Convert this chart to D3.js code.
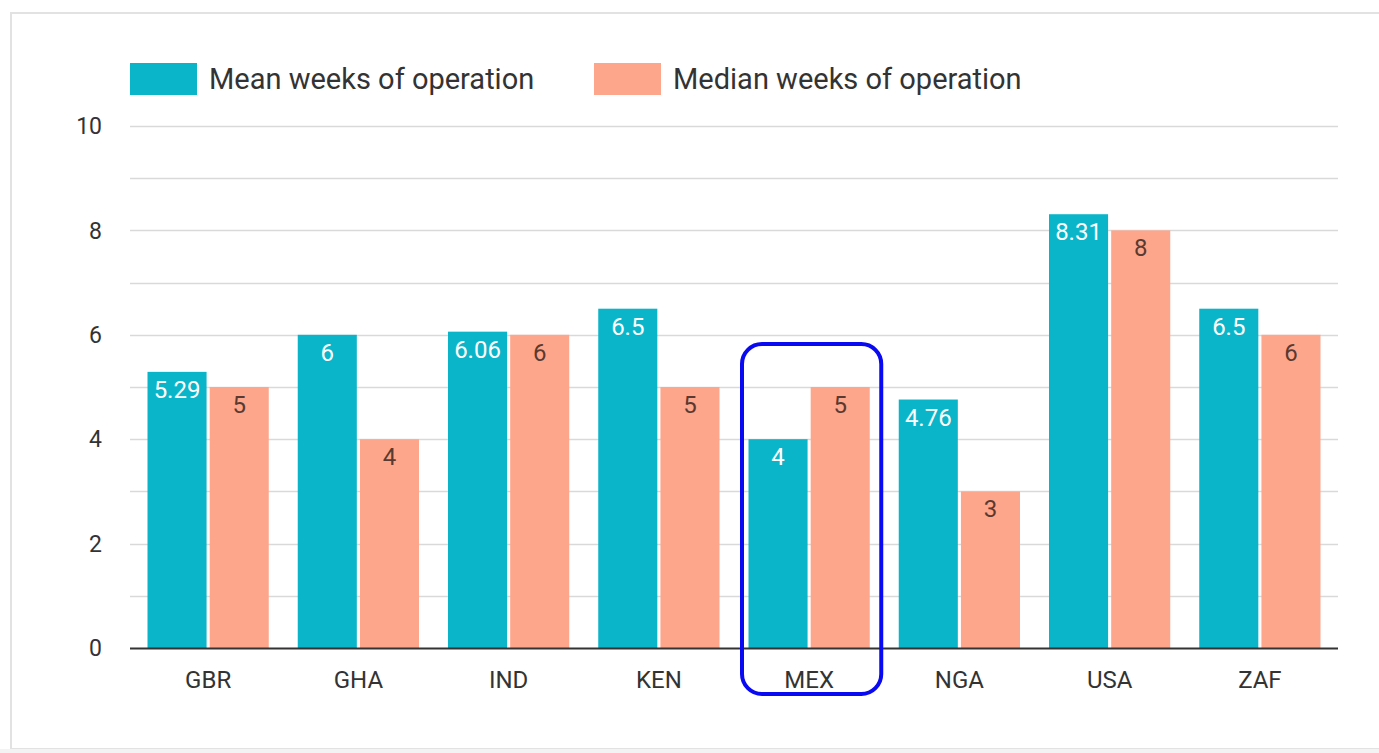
<!DOCTYPE html>
<html><head><meta charset="utf-8">
<script src="https://cdn.jsdelivr.net/npm/d3@7"></script>
<style>
html,body{margin:0;padding:0;background:#fff;overflow:hidden}
svg{display:block}
text{font-family:Roboto,"Noto Sans",sans-serif}
</style></head>
<body><svg id="chart" width="1379" height="753"></svg>
<script>
const categories = ["GBR","GHA","IND","KEN","MEX","NGA","USA","ZAF"];
const meanWeeks = [5.29, 6, 6.06, 6.5, 4, 4.76, 8.31, 6.5];
const medianWeeks = [5, 4, 6, 5, 5, 3, 8, 6];
const seriesNames = ["Mean weeks of operation", "Median weeks of operation"];
const yTicks = [0, 2, 4, 6, 8, 10];
const highlighted = "MEX";

const colors = ["#0bb5c9", "#fda68b"];
const labelColors = ["#ffffff", "#5a3a30"];

const svg = d3.select("#chart");
// card
svg.append("rect").attr("x", 11).attr("y", 13).attr("width", 1400).attr("height", 736)
  .attr("fill", "#fff").attr("stroke", "#e2e2e2").attr("stroke-width", 2);
svg.append("rect").attr("x", 0).attr("y", 749).attr("width", 1379).attr("height", 4).attr("fill", "#f3f3f3");

const x = d3.scaleBand().domain(categories).range([133, 1335]).paddingInner(0).paddingOuter(0);
const y = d3.scaleLinear().domain([0, 10]).range([648, 126]);
const inner = d3.scaleBand().domain([0, 1]).range([14.5, x.bandwidth() - 14.5]).paddingInner(0.05);

const lineX0 = 130, lineX1 = 1338;
// gridlines every 1
const grid = svg.append("g");
grid.selectAll("line").data(d3.range(1, 11)).join("line")
  .attr("x1", lineX0).attr("x2", lineX1)
  .attr("y1", d => Math.round(y(d)) + 0.5).attr("y2", d => Math.round(y(d)) + 0.5)
  .attr("stroke", "#d9d9d9").attr("stroke-width", 1.3);

// y tick labels
svg.append("g").selectAll("text").data(yTicks).join("text")
  .attr("x", 102).attr("y", d => y(d)).attr("dy", "0.36em")
  .attr("text-anchor", "end").attr("font-size", 23).attr("fill", "#333")
  .text(d => d);

const series = [meanWeeks, medianWeeks];
series.forEach((vals, s) => {
  const g = svg.append("g");
  g.selectAll("rect").data(categories).join("rect")
    .attr("x", (c) => x(c) + inner(s))
    .attr("width", inner.bandwidth())
    .attr("y", (c, i) => y(vals[i]))
    .attr("height", (c, i) => y(0) - y(vals[i]))
    .attr("fill", colors[s]);
  g.selectAll("text").data(categories).join("text")
    .attr("x", (c) => x(c) + inner(s) + inner.bandwidth() / 2)
    .attr("y", (c, i) => y(vals[i]) + 26)
    .attr("text-anchor", "middle").attr("font-size", 24)
    .attr("fill", labelColors[s])
    .text((c, i) => vals[i]);
});

// baseline
svg.append("line").attr("x1", lineX0).attr("x2", lineX1)
  .attr("y1", y(0) + 0.5).attr("y2", y(0) + 0.5)
  .attr("stroke", "#333").attr("stroke-width", 2);

// x axis labels
const xAxis = d3.axisBottom(x).tickSize(0).tickPadding(0);
const xg = svg.append("g").attr("transform", `translate(0,${y(0)})`).call(xAxis);
xg.select(".domain").remove();
xg.selectAll("text").attr("y", 31).attr("dy", "0.36em")
  .attr("font-size", 24).attr("fill", "#333").attr("font-family", "Roboto");

// legend
const legendX = [130, 594];
seriesNames.forEach((n, s) => {
  svg.append("rect").attr("x", legendX[s]).attr("y", 63).attr("width", 67).attr("height", 32).attr("fill", colors[s]);
  svg.append("text").attr("x", legendX[s] + 79).attr("y", 79).attr("dy", "0.36em")
    .attr("font-size", 29).attr("fill", "#333").text(n);
});

// highlight box
const hb = x(highlighted);
svg.append("rect")
  .attr("x", hb + 8).attr("y", 344)
  .attr("width", x.bandwidth() - 11).attr("height", 350)
  .attr("rx", 20).attr("ry", 20)
  .attr("fill", "none").attr("stroke", "#0a0af2").attr("stroke-width", 4);
</script></body></html>
